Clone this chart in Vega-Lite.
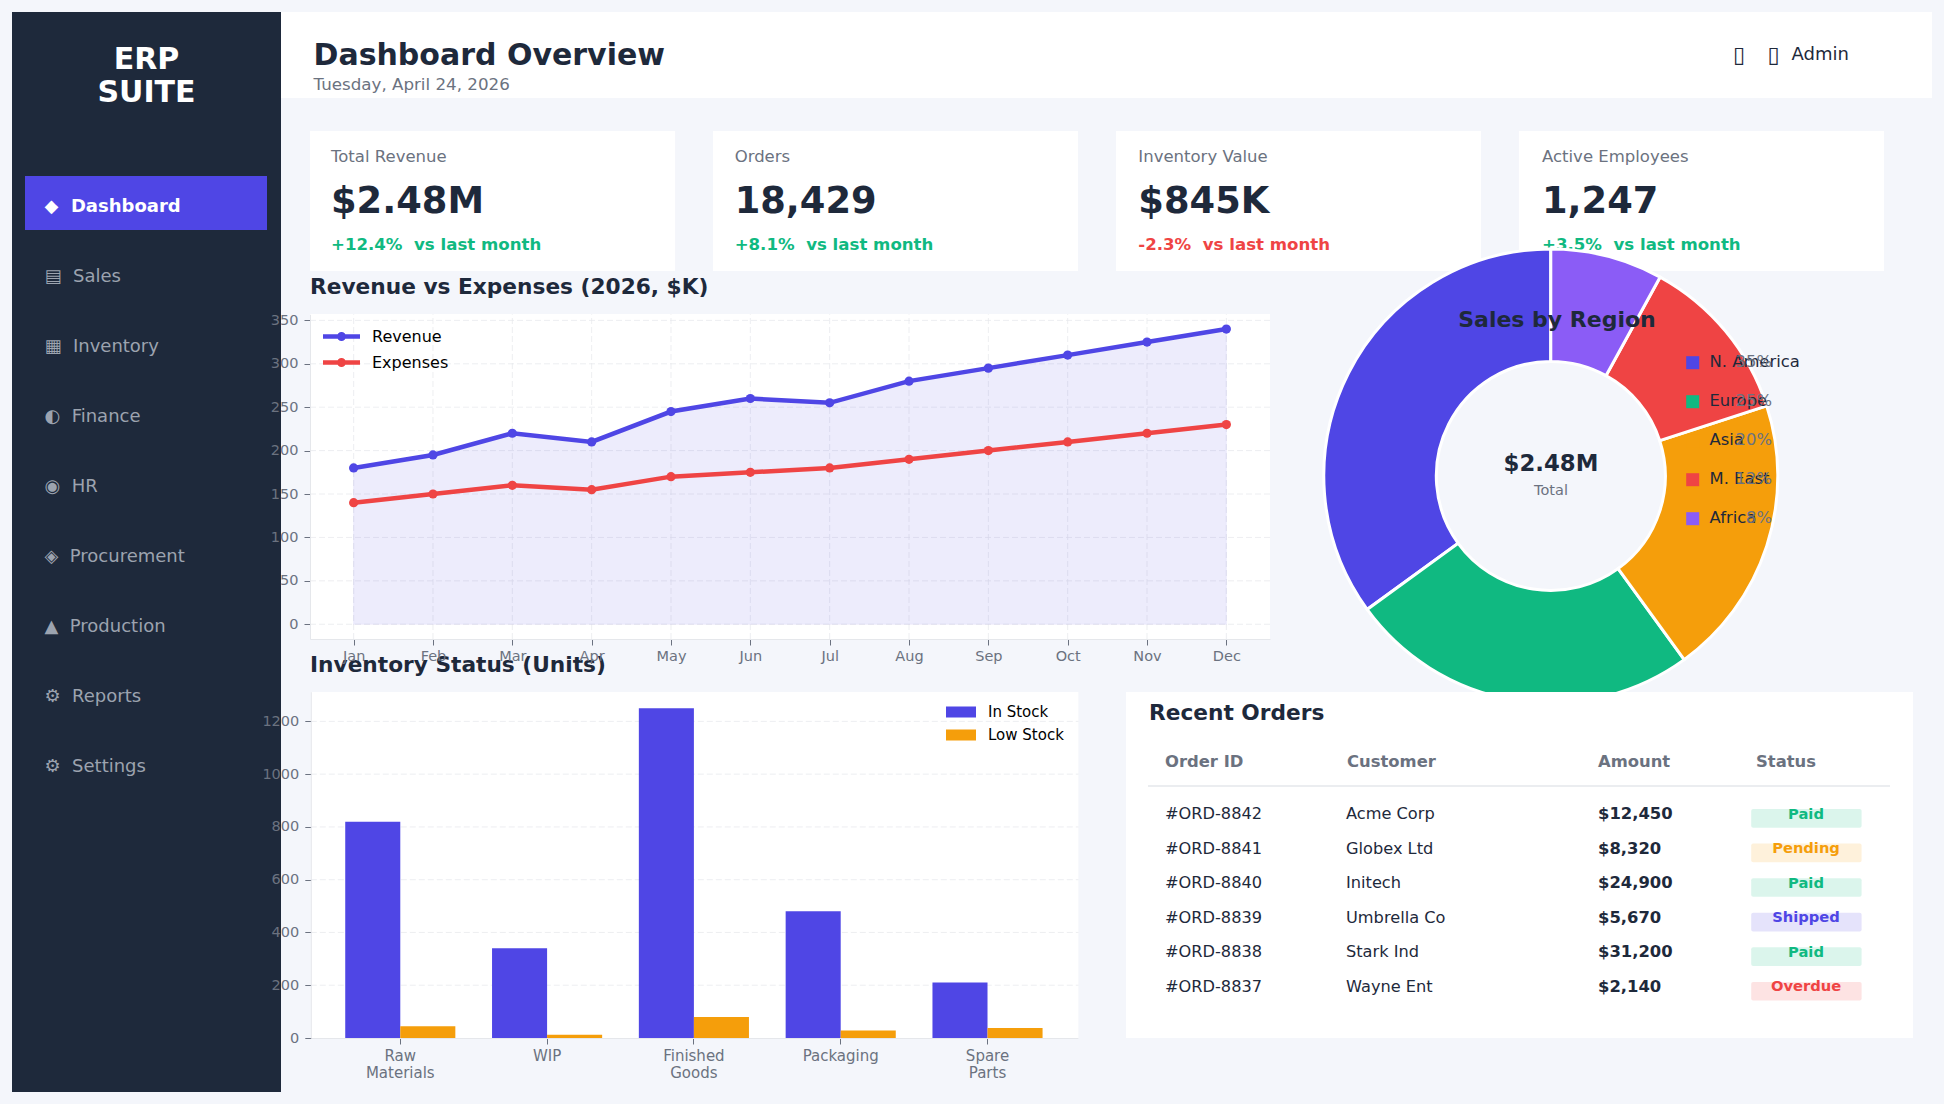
{"$schema":"https://vega.github.io/schema/vega-lite/v6.json","width":1944,"height":1104,"padding":0,"autosize":{"type":"none"},"background":"#f4f6fb","config":{"font":"DejaVu Sans","view":{"stroke":null}},
"datasets":{
"menu":[{"item":"◆\u00a0\u00a0Dashboard","active":true},{"item":"▤\u00a0\u00a0Sales","active":false},{"item":"▦\u00a0\u00a0Inventory","active":false},{"item":"◐\u00a0\u00a0Finance","active":false},{"item":"◉\u00a0\u00a0HR","active":false},{"item":"◈\u00a0\u00a0Procurement","active":false},{"item":"▲\u00a0\u00a0Production","active":false},{"item":"⚙\u00a0\u00a0Reports","active":false},{"item":"⚙\u00a0\u00a0Settings","active":false}],
"kpis":[{"card":"Total Revenue","value":"$2.48M","change":"+12.4%\u00a0\u00a0vs last month","trend":"up"},{"card":"Orders","value":"18,429","change":"+8.1%\u00a0\u00a0vs last month","trend":"up"},{"card":"Inventory Value","value":"$845K","change":"-2.3%\u00a0\u00a0vs last month","trend":"down"},{"card":"Active Employees","value":"1,247","change":"+3.5%\u00a0\u00a0vs last month","trend":"up"}],
"finance":[{"month":"Jan","series":"Revenue","value":180},{"month":"Feb","series":"Revenue","value":195},{"month":"Mar","series":"Revenue","value":220},{"month":"Apr","series":"Revenue","value":210},{"month":"May","series":"Revenue","value":245},{"month":"Jun","series":"Revenue","value":260},{"month":"Jul","series":"Revenue","value":255},{"month":"Aug","series":"Revenue","value":280},{"month":"Sep","series":"Revenue","value":295},{"month":"Oct","series":"Revenue","value":310},{"month":"Nov","series":"Revenue","value":325},{"month":"Dec","series":"Revenue","value":340},{"month":"Jan","series":"Expenses","value":140},{"month":"Feb","series":"Expenses","value":150},{"month":"Mar","series":"Expenses","value":160},{"month":"Apr","series":"Expenses","value":155},{"month":"May","series":"Expenses","value":170},{"month":"Jun","series":"Expenses","value":175},{"month":"Jul","series":"Expenses","value":180},{"month":"Aug","series":"Expenses","value":190},{"month":"Sep","series":"Expenses","value":200},{"month":"Oct","series":"Expenses","value":210},{"month":"Nov","series":"Expenses","value":220},{"month":"Dec","series":"Expenses","value":230}],
"stock":[{"category":"Raw Materials","series":"In Stock","units":820},{"category":"WIP","series":"In Stock","units":340},{"category":"Finished Goods","series":"In Stock","units":1250},{"category":"Packaging","series":"In Stock","units":480},{"category":"Spare Parts","series":"In Stock","units":210},{"category":"Raw Materials","series":"Low Stock","units":45},{"category":"WIP","series":"Low Stock","units":12},{"category":"Finished Goods","series":"Low Stock","units":80},{"category":"Packaging","series":"Low Stock","units":28},{"category":"Spare Parts","series":"Low Stock","units":38}],
"regions":[{"region":"N. America","share":35,"label":"35%","rank":1},{"region":"Europe","share":25,"label":"25%","rank":2},{"region":"Asia","share":20,"label":"20%","rank":3},{"region":"M. East","share":12,"label":"12%","rank":4},{"region":"Africa","share":8,"label":"8%","rank":5}],
"orders":[{"order":"#ORD-8842","customer":"Acme Corp","amount":"$12,450","status":"Paid"},{"order":"#ORD-8841","customer":"Globex Ltd","amount":"$8,320","status":"Pending"},{"order":"#ORD-8840","customer":"Initech","amount":"$24,900","status":"Paid"},{"order":"#ORD-8839","customer":"Umbrella Co","amount":"$5,670","status":"Shipped"},{"order":"#ORD-8838","customer":"Stark Ind","amount":"$31,200","status":"Paid"},{"order":"#ORD-8837","customer":"Wayne Ent","amount":"$2,140","status":"Overdue"}],
"levels350":[{"level":0},{"level":50},{"level":100},{"level":150},{"level":200},{"level":250},{"level":300},{"level":350}],
"months":[{"month":"Jan"},{"month":"Feb"},{"month":"Mar"},{"month":"Apr"},{"month":"May"},{"month":"Jun"},{"month":"Jul"},{"month":"Aug"},{"month":"Sep"},{"month":"Oct"},{"month":"Nov"},{"month":"Dec"}],
"levels1200":[{"level":200},{"level":400},{"level":600},{"level":800},{"level":1000},{"level":1200}]
},
"data":{"name":"menu"},
"resolve":{"scale":{"x":"independent","y":"independent","color":"independent","theta":"independent"},"axis":{"x":"independent","y":"independent"},"legend":{"color":"independent"}},
"layer":[
{"data":{"values":[{"panel":"Sidebar"}]},"mark":{"type":"rect","color":"#1e293b"},"encoding":{"x":{"field":"panel","type":"nominal","scale":{"type":"band","domain":["Sidebar"],"range":[12,281],"padding":0},"axis":null},"y":{"field":"panel","type":"nominal","scale":{"type":"band","domain":["Sidebar"],"range":[12,1092],"padding":0},"axis":null}}},
{"data":{"values":[{"panel":"Active"}]},"mark":{"type":"rect","color":"#4f46e5"},"encoding":{"x":{"field":"panel","type":"nominal","scale":{"type":"band","domain":["Active"],"range":[25,267],"padding":0},"axis":null},"y":{"field":"panel","type":"nominal","scale":{"type":"band","domain":["Active"],"range":[176,230],"padding":0},"axis":null}}},
{"data":{"values":[{"panel":"Header"}]},"mark":{"type":"rect","color":"#ffffff"},"encoding":{"x":{"field":"panel","type":"nominal","scale":{"type":"band","domain":["Header"],"range":[281,1932],"padding":0},"axis":null},"y":{"field":"panel","type":"nominal","scale":{"type":"band","domain":["Header"],"range":[12,98],"padding":0},"axis":null}}},
{"data":{"name":"kpis"},"mark":{"type":"rect","color":"#ffffff"},"encoding":{"x":{"field":"card","type":"nominal","scale":{"type":"band","domain":["Total Revenue","Orders","Inventory Value","Active Employees"],"range":[310,1884],"paddingInner":0.094,"paddingOuter":0},"axis":null},"y":{"datum":"Card","type":"nominal","scale":{"type":"band","domain":["Card"],"range":[131,271],"padding":0},"axis":null}}},
{"data":{"values":[{"line":"ERP"},{"line":"SUITE"}]},"mark":{"type":"text","align":"center","baseline":"middle","fontSize":30,"fontWeight":"bold","color":"#ffffff"},"encoding":{"text":{"field":"line"},"x":{"datum":"Logo","type":"nominal","scale":{"type":"point","domain":["Logo"],"range":[146.5,146.5]},"axis":null},"y":{"field":"line","type":"nominal","scale":{"type":"point","domain":["ERP","SUITE"],"range":[60,93],"padding":0},"axis":null}}},
{"data":{"name":"menu"},"transform":[{"filter":"datum.active"}],"mark":{"type":"text","align":"left","baseline":"middle","fontSize":18,"fontWeight":"bold","color":"#ffffff"},"encoding":{"text":{"field":"item"},"x":{"datum":"Menu","type":"nominal","scale":{"type":"point","domain":["Menu"],"range":[44.5,44.5]},"axis":null},"y":{"field":"item","type":"nominal","sort":null,"scale":{"type":"point","domain":["◆\u00a0\u00a0Dashboard","▤\u00a0\u00a0Sales","▦\u00a0\u00a0Inventory","◐\u00a0\u00a0Finance","◉\u00a0\u00a0HR","◈\u00a0\u00a0Procurement","▲\u00a0\u00a0Production","⚙\u00a0\u00a0Reports","⚙\u00a0\u00a0Settings"],"range":[207,767],"padding":0},"axis":null}}},
{"data":{"name":"menu"},"transform":[{"filter":"!datum.active"}],"mark":{"type":"text","align":"left","baseline":"middle","fontSize":18,"color":"#9ca3af"},"encoding":{"text":{"field":"item"},"x":{"datum":"Menu","type":"nominal","scale":{"type":"point","domain":["Menu"],"range":[44.5,44.5]},"axis":null},"y":{"field":"item","type":"nominal","sort":null,"scale":{"type":"point","domain":["◆\u00a0\u00a0Dashboard","▤\u00a0\u00a0Sales","▦\u00a0\u00a0Inventory","◐\u00a0\u00a0Finance","◉\u00a0\u00a0HR","◈\u00a0\u00a0Procurement","▲\u00a0\u00a0Production","⚙\u00a0\u00a0Reports","⚙\u00a0\u00a0Settings"],"range":[207,767],"padding":0},"axis":null}}},
{"data":{"values":[{"title":"Dashboard Overview"}]},"mark":{"type":"text","align":"left","baseline":"middle","fontSize":30,"fontWeight":"bold","color":"#1e293b"},"encoding":{"text":{"field":"title"},"x":{"datum":"Head","type":"nominal","scale":{"type":"point","domain":["Head"],"range":[313.5,313.5]},"axis":null},"y":{"datum":"Head","type":"nominal","scale":{"type":"point","domain":["Head"],"range":[56,56]},"axis":null}}},
{"data":{"values":[{"title":"Tuesday, April 24, 2026"}]},"mark":{"type":"text","align":"left","baseline":"middle","fontSize":16.7,"color":"#6b7280"},"encoding":{"text":{"field":"title"},"x":{"datum":"Head","type":"nominal","scale":{"type":"point","domain":["Head"],"range":[313.5,313.5]},"axis":null},"y":{"datum":"Head","type":"nominal","scale":{"type":"point","domain":["Head"],"range":[85,85]},"axis":null}}},
{"data":{"values":[{"icon":"▯"},{"icon":"▯ "}]},"mark":{"type":"text","align":"center","baseline":"middle","fontSize":22,"color":"#1e293b"},"encoding":{"text":{"field":"icon"},"x":{"field":"icon","type":"nominal","scale":{"type":"point","domain":["▯","▯ "],"range":[1739,1773.6],"padding":0},"axis":null},"y":{"datum":"Head","type":"nominal","scale":{"type":"point","domain":["Head"],"range":[55,55]},"axis":null}}},
{"data":{"values":[{"user":"Admin"}]},"mark":{"type":"text","align":"left","baseline":"middle","fontSize":18,"color":"#1e293b"},"encoding":{"text":{"field":"user"},"x":{"datum":"Head","type":"nominal","scale":{"type":"point","domain":["Head"],"range":[1791.5,1791.5]},"axis":null},"y":{"datum":"Head","type":"nominal","scale":{"type":"point","domain":["Head"],"range":[55,55]},"axis":null}}},
{"data":{"name":"kpis"},"mark":{"type":"text","align":"left","baseline":"middle","fontSize":16.5,"color":"#6b7280"},"encoding":{"text":{"field":"card"},"x":{"field":"card","type":"nominal","scale":{"type":"point","domain":["Total Revenue","Orders","Inventory Value","Active Employees"],"range":[331,1542],"padding":0},"axis":null},"y":{"datum":"Label","type":"nominal","scale":{"type":"point","domain":["Label"],"range":[156.5,156.5]},"axis":null}}},
{"data":{"name":"kpis"},"mark":{"type":"text","align":"left","baseline":"middle","fontSize":36.8,"fontWeight":"bold","color":"#1e293b"},"encoding":{"text":{"field":"value"},"x":{"field":"card","type":"nominal","scale":{"type":"point","domain":["Total Revenue","Orders","Inventory Value","Active Employees"],"range":[331,1542],"padding":0},"axis":null},"y":{"datum":"Value","type":"nominal","scale":{"type":"point","domain":["Value"],"range":[202,202]},"axis":null}}},
{"data":{"name":"kpis"},"mark":{"type":"text","align":"left","baseline":"middle","fontSize":16.6,"fontWeight":"bold"},"encoding":{"text":{"field":"change"},"color":{"field":"trend","type":"nominal","scale":{"domain":["up","down"],"range":["#10b981","#ef4444"]},"legend":null},"x":{"field":"card","type":"nominal","scale":{"type":"point","domain":["Total Revenue","Orders","Inventory Value","Active Employees"],"range":[331,1542],"padding":0},"axis":null},"y":{"datum":"Change","type":"nominal","scale":{"type":"point","domain":["Change"],"range":[244.5,244.5]},"axis":null}}},
{"data":{"values":[{"panel":"Line"}]},"mark":{"type":"rect","color":"#ffffff"},"encoding":{"x":{"field":"panel","type":"nominal","scale":{"type":"band","domain":["Line"],"range":[310,1270],"padding":0},"axis":null},"y":{"field":"panel","type":"nominal","scale":{"type":"band","domain":["Line"],"range":[314,639],"padding":0},"axis":null}}},
{"data":{"name":"levels350"},"mark":{"type":"rule","color":"#e5e7eb","strokeDash":[6,3],"strokeWidth":1,"opacity":0.7},"encoding":{"y":{"field":"level","type":"quantitative","scale":{"domain":[-17,357],"range":[639,314.3],"nice":false,"zero":false},"axis":null},"x":{"datum":0,"type":"quantitative","scale":{"domain":[0,1],"range":[310,1270]},"axis":null},"x2":{"datum":1}}},
{"data":{"name":"months"},"mark":{"type":"rule","color":"#e5e7eb","strokeDash":[6,3],"strokeWidth":1,"opacity":0.7},"encoding":{"x":{"field":"month","type":"nominal","sort":null,"scale":{"type":"point","domain":["Jan","Feb","Mar","Apr","May","Jun","Jul","Aug","Sep","Oct","Nov","Dec"],"range":[310,1270],"padding":0.55},"axis":null},"y":{"datum":0,"type":"quantitative","scale":{"domain":[0,1],"range":[639,314.3]},"axis":null},"y2":{"datum":1}}},
{"data":{"name":"finance"},"encoding":{"x":{"field":"month","type":"nominal","sort":null,"scale":{"type":"point","domain":["Jan","Feb","Mar","Apr","May","Jun","Jul","Aug","Sep","Oct","Nov","Dec"],"range":[310,1270],"padding":0.55},"axis":{"title":null,"orient":"bottom","offset":-465,"zindex":1,"labelAngle":0,"labelFontSize":14.5,"labelColor":"#6b7280","labelPadding":4,"tickSize":6,"tickColor":"#6b7280","domainColor":"#e5e7eb","labelOverlap":false,"grid":false}},"y":{"field":"value","type":"quantitative","scale":{"domain":[-17,357],"range":[639,314.3],"nice":false,"zero":false},"axis":{"title":null,"orient":"left","offset":-310,"zindex":1,"values":[0,50,100,150,200,250,300,350],"labelFontSize":14.5,"labelColor":"#6b7280","labelPadding":6,"tickSize":6,"tickColor":"#6b7280","domainColor":"#e5e7eb","labelOverlap":false,"grid":false}}},
"layer":[
{"transform":[{"filter":"datum.series==='Revenue'"}],"mark":{"type":"area","fill":"#4f46e5","fillOpacity":0.1,"stroke":"#4f46e5","strokeOpacity":0.06,"strokeWidth":1},"encoding":{"y2":{"datum":0}}},
{"mark":{"type":"line","strokeWidth":4.5},"encoding":{"color":{"field":"series","type":"nominal","scale":{"domain":["Revenue","Expenses"],"range":["#4f46e5","#ef4444"]},"legend":{"orient":"none","legendX":329,"legendY":324,"title":null,"symbolType":"M-1.85,0H1.85M-0.22,0A0.22,0.22,0,1,1,0.22,0A0.22,0.22,0,1,1,-0.22,0","symbolSize":400,"symbolStrokeWidth":4.5,"labelFontSize":16,"labelColor":"#000000","labelOffset":18,"rowPadding":2,"padding":0}}}},
{"mark":{"type":"point","filled":true,"size":85,"opacity":1},"encoding":{"color":{"field":"series","type":"nominal","scale":{"domain":["Revenue","Expenses"],"range":["#4f46e5","#ef4444"]},"legend":null}}}
]},
{"data":{"values":[{"title":"Revenue vs Expenses (2026, $K)"},{"title":"Inventory Status (Units)"}]},"mark":{"type":"text","align":"left","baseline":"middle","fontSize":21.7,"fontWeight":"bold","color":"#1e293b"},"encoding":{"text":{"field":"title"},"x":{"datum":"Title","type":"nominal","scale":{"type":"point","domain":["Title"],"range":[310,310]},"axis":null},"y":{"field":"title","type":"nominal","scale":{"type":"point","domain":["Revenue vs Expenses (2026, $K)","Inventory Status (Units)"],"range":[287,665],"padding":0},"axis":null}}},
{"data":{"values":[{"panel":"Bars"}]},"mark":{"type":"rect","color":"#ffffff"},"encoding":{"x":{"field":"panel","type":"nominal","scale":{"type":"band","domain":["Bars"],"range":[310.8,1078.4],"padding":0},"axis":null},"y":{"field":"panel","type":"nominal","scale":{"type":"band","domain":["Bars"],"range":[692,1038],"padding":0},"axis":null}}},
{"data":{"name":"levels1200"},"mark":{"type":"rule","color":"#e5e7eb","strokeDash":[6,3],"strokeWidth":1,"opacity":0.7},"encoding":{"y":{"field":"level","type":"quantitative","scale":{"domain":[0,1312.5],"range":[1038,691.7],"nice":false},"axis":null},"x":{"datum":0,"type":"quantitative","scale":{"domain":[0,1],"range":[310.8,1078.4]},"axis":null},"x2":{"datum":1}}},
{"data":{"name":"stock"},"mark":{"type":"bar"},"encoding":{"x":{"field":"category","type":"nominal","sort":null,"scale":{"type":"band","domain":["Raw Materials","WIP","Finished Goods","Packaging","Spare Parts"],"range":[310,1077.8],"paddingInner":0.25,"paddingOuter":0.24},"axis":{"title":null,"orient":"bottom","offset":-66,"zindex":1,"labelAngle":0,"labelFontSize":15,"labelColor":"#6b7280","labelPadding":4,"tickSize":6,"tickColor":"#6b7280","domainColor":"#e5e7eb","labelOverlap":false,"labelExpr":"split(datum.label,' ')","labelLineHeight":17,"grid":false}},"xOffset":{"field":"series","type":"nominal","sort":null,"scale":{"domain":["In Stock","Low Stock"],"padding":0}},"y":{"field":"units","type":"quantitative","stack":null,"scale":{"domain":[0,1312.5],"range":[1038,691.7],"nice":false},"axis":{"title":null,"orient":"left","offset":-310.8,"zindex":1,"values":[0,200,400,600,800,1000,1200],"format":"d","labelFontSize":14.5,"labelColor":"#6b7280","labelPadding":6,"tickSize":6,"tickColor":"#6b7280","domainColor":"#e5e7eb","labelOverlap":false,"grid":false}},"color":{"field":"series","type":"nominal","scale":{"domain":["In Stock","Low Stock"],"range":["#4f46e5","#f59e0b"]},"legend":{"orient":"none","legendX":946,"legendY":697,"title":null,"symbolType":"M-1,-0.367H1V0.367H-1Z","symbolSize":900,"symbolStrokeWidth":0,"labelFontSize":15,"labelColor":"#000000","labelOffset":12,"rowPadding":-10,"padding":0}}}},
{"data":{"name":"regions"},"mark":{"type":"arc","outerRadius":227,"innerRadius":114.5,"stroke":"#ffffff","strokeWidth":3},"encoding":{"theta":{"field":"share","type":"quantitative","stack":true,"scale":{"domain":[0,100],"range":[6.283185,0]}},"order":{"field":"rank"},"color":{"field":"region","type":"nominal","sort":null,"scale":{"domain":["N. America","Europe","Asia","M. East","Africa"],"range":["#4f46e5","#10b981","#f59e0b","#ef4444","#8b5cf6"]},"legend":null},"x":{"datum":"Pie","type":"nominal","scale":{"type":"point","domain":["Pie"],"range":[1550.8,1550.8]},"axis":null},"y":{"datum":"Pie","type":"nominal","scale":{"type":"point","domain":["Pie"],"range":[476,476]},"axis":null}}},
{"data":{"values":[{"title":"Sales by Region"}]},"mark":{"type":"text","align":"center","baseline":"middle","fontSize":22,"fontWeight":"bold","color":"#1e293b"},"encoding":{"text":{"field":"title"},"x":{"datum":"T","type":"nominal","scale":{"type":"point","domain":["T"],"range":[1557,1557]},"axis":null},"y":{"datum":"T","type":"nominal","scale":{"type":"point","domain":["T"],"range":[320,320]},"axis":null}}},
{"data":{"values":[{"total":"$2.48M"}]},"mark":{"type":"text","align":"center","baseline":"middle","fontSize":22.8,"fontWeight":"bold","color":"#1e293b"},"encoding":{"text":{"field":"total"},"x":{"datum":"T","type":"nominal","scale":{"type":"point","domain":["T"],"range":[1551,1551]},"axis":null},"y":{"datum":"T","type":"nominal","scale":{"type":"point","domain":["T"],"range":[464,464]},"axis":null}}},
{"data":{"values":[{"caption":"Total"}]},"mark":{"type":"text","align":"center","baseline":"middle","fontSize":14.5,"color":"#6b7280"},"encoding":{"text":{"field":"caption"},"x":{"datum":"T","type":"nominal","scale":{"type":"point","domain":["T"],"range":[1551,1551]},"axis":null},"y":{"datum":"T","type":"nominal","scale":{"type":"point","domain":["T"],"range":[490.5,490.5]},"axis":null}}},
{"data":{"name":"regions"},"mark":{"type":"square","size":169,"filled":true,"opacity":1},"encoding":{"color":{"field":"region","type":"nominal","sort":null,"scale":{"domain":["N. America","Europe","Asia","M. East","Africa"],"range":["#4f46e5","#10b981","#f59e0b","#ef4444","#8b5cf6"]},"legend":null},"x":{"datum":"K","type":"nominal","scale":{"type":"point","domain":["K"],"range":[1692.7,1692.7]},"axis":null},"y":{"field":"region","type":"nominal","sort":null,"scale":{"type":"point","domain":["N. America","Europe","Asia","M. East","Africa"],"range":[362.7,518.7],"padding":0},"axis":null}}},
{"data":{"name":"regions"},"mark":{"type":"text","align":"left","baseline":"middle","fontSize":16.4,"color":"#1e293b"},"encoding":{"text":{"field":"region"},"x":{"datum":"K","type":"nominal","scale":{"type":"point","domain":["K"],"range":[1709.5,1709.5]},"axis":null},"y":{"field":"region","type":"nominal","sort":null,"scale":{"type":"point","domain":["N. America","Europe","Asia","M. East","Africa"],"range":[362,518],"padding":0},"axis":null}}},
{"data":{"name":"regions"},"mark":{"type":"text","align":"right","baseline":"middle","fontSize":16.4,"color":"#6b7280"},"encoding":{"text":{"field":"label"},"x":{"datum":"K","type":"nominal","scale":{"type":"point","domain":["K"],"range":[1772,1772]},"axis":null},"y":{"field":"region","type":"nominal","sort":null,"scale":{"type":"point","domain":["N. America","Europe","Asia","M. East","Africa"],"range":[362,518],"padding":0},"axis":null}}},
{"data":{"values":[{"panel":"Orders"}]},"mark":{"type":"rect","color":"#ffffff"},"encoding":{"x":{"field":"panel","type":"nominal","scale":{"type":"band","domain":["Orders"],"range":[1126,1913],"padding":0},"axis":null},"y":{"field":"panel","type":"nominal","scale":{"type":"band","domain":["Orders"],"range":[692,1038],"padding":0},"axis":null}}},
{"data":{"values":[{"title":"Recent Orders"}]},"mark":{"type":"text","align":"left","baseline":"middle","fontSize":21.7,"fontWeight":"bold","color":"#1e293b"},"encoding":{"text":{"field":"title"},"x":{"datum":"T","type":"nominal","scale":{"type":"point","domain":["T"],"range":[1149,1149]},"axis":null},"y":{"datum":"T","type":"nominal","scale":{"type":"point","domain":["T"],"range":[713,713]},"axis":null}}},
{"data":{"values":[{"column":"Order ID"}]},"mark":{"type":"text","align":"left","baseline":"middle","fontSize":16.4,"fontWeight":"bold","color":"#6b7280"},"encoding":{"text":{"field":"column"},"x":{"datum":"T","type":"nominal","scale":{"type":"point","domain":["T"],"range":[1165,1165]},"axis":null},"y":{"datum":"T","type":"nominal","scale":{"type":"point","domain":["T"],"range":[762,762]},"axis":null}}},
{"data":{"values":[{"column":"Customer"}]},"mark":{"type":"text","align":"left","baseline":"middle","fontSize":16.4,"fontWeight":"bold","color":"#6b7280"},"encoding":{"text":{"field":"column"},"x":{"datum":"T","type":"nominal","scale":{"type":"point","domain":["T"],"range":[1347,1347]},"axis":null},"y":{"datum":"T","type":"nominal","scale":{"type":"point","domain":["T"],"range":[762,762]},"axis":null}}},
{"data":{"values":[{"column":"Amount"}]},"mark":{"type":"text","align":"left","baseline":"middle","fontSize":16.4,"fontWeight":"bold","color":"#6b7280"},"encoding":{"text":{"field":"column"},"x":{"datum":"T","type":"nominal","scale":{"type":"point","domain":["T"],"range":[1598,1598]},"axis":null},"y":{"datum":"T","type":"nominal","scale":{"type":"point","domain":["T"],"range":[762,762]},"axis":null}}},
{"data":{"values":[{"column":"Status"}]},"mark":{"type":"text","align":"left","baseline":"middle","fontSize":16.4,"fontWeight":"bold","color":"#6b7280"},"encoding":{"text":{"field":"column"},"x":{"datum":"T","type":"nominal","scale":{"type":"point","domain":["T"],"range":[1756,1756]},"axis":null},"y":{"datum":"T","type":"nominal","scale":{"type":"point","domain":["T"],"range":[762,762]},"axis":null}}},
{"data":{"values":[{"rowline":"Header"}]},"mark":{"type":"rule","color":"#e5e7eb","strokeWidth":1.5},"encoding":{"x":{"datum":0,"type":"quantitative","scale":{"domain":[0,1],"range":[1148,1890]},"axis":null},"x2":{"datum":1},"y":{"field":"rowline","type":"nominal","scale":{"type":"point","domain":["Header"],"range":[786,786]},"axis":null}}},
{"data":{"name":"orders"},"mark":{"type":"text","align":"left","baseline":"middle","fontSize":16.2,"color":"#1e293b"},"encoding":{"text":{"field":"order"},"x":{"datum":"T","type":"nominal","scale":{"type":"point","domain":["T"],"range":[1165,1165]},"axis":null},"y":{"field":"order","type":"nominal","sort":null,"scale":{"type":"point","domain":["#ORD-8842","#ORD-8841","#ORD-8840","#ORD-8839","#ORD-8838","#ORD-8837"],"range":[814,986.5],"padding":0},"axis":null}}},
{"data":{"name":"orders"},"mark":{"type":"text","align":"left","baseline":"middle","fontSize":16.2,"color":"#1e293b"},"encoding":{"text":{"field":"customer"},"x":{"datum":"T","type":"nominal","scale":{"type":"point","domain":["T"],"range":[1346,1346]},"axis":null},"y":{"field":"order","type":"nominal","sort":null,"scale":{"type":"point","domain":["#ORD-8842","#ORD-8841","#ORD-8840","#ORD-8839","#ORD-8838","#ORD-8837"],"range":[814,986.5],"padding":0},"axis":null}}},
{"data":{"name":"orders"},"mark":{"type":"text","align":"left","baseline":"middle","fontSize":16.4,"fontWeight":"bold","color":"#1e293b"},"encoding":{"text":{"field":"amount"},"x":{"datum":"T","type":"nominal","scale":{"type":"point","domain":["T"],"range":[1598,1598]},"axis":null},"y":{"field":"order","type":"nominal","sort":null,"scale":{"type":"point","domain":["#ORD-8842","#ORD-8841","#ORD-8840","#ORD-8839","#ORD-8838","#ORD-8837"],"range":[814,986.5],"padding":0},"axis":null}}},
{"data":{"name":"orders"},"mark":{"type":"rect","opacity":0.15,"cornerRadius":2},"encoding":{"color":{"field":"status","type":"nominal","scale":{"domain":["Paid","Pending","Shipped","Overdue"],"range":["#10b981","#f59e0b","#4f46e5","#ef4444"]},"legend":null},"x":{"datum":"Status","type":"nominal","scale":{"type":"band","domain":["Status"],"range":[1751.2,1861.6],"padding":0},"axis":null},"y":{"field":"order","type":"nominal","sort":null,"scale":{"type":"band","domain":["#ORD-8842","#ORD-8841","#ORD-8840","#ORD-8839","#ORD-8838","#ORD-8837"],"range":[801.1,1008.5],"paddingInner":0.46,"paddingOuter":0.23},"axis":null}}},
{"data":{"name":"orders"},"mark":{"type":"text","align":"center","baseline":"middle","fontSize":14.7,"fontWeight":"bold"},"encoding":{"text":{"field":"status"},"color":{"field":"status","type":"nominal","scale":{"domain":["Paid","Pending","Shipped","Overdue"],"range":["#10b981","#f59e0b","#4f46e5","#ef4444"]},"legend":null},"x":{"datum":"Status","type":"nominal","scale":{"type":"point","domain":["Status"],"range":[1806,1806]},"axis":null},"y":{"field":"order","type":"nominal","sort":null,"scale":{"type":"point","domain":["#ORD-8842","#ORD-8841","#ORD-8840","#ORD-8839","#ORD-8838","#ORD-8837"],"range":[814.5,987],"padding":0},"axis":null}}}
]}
